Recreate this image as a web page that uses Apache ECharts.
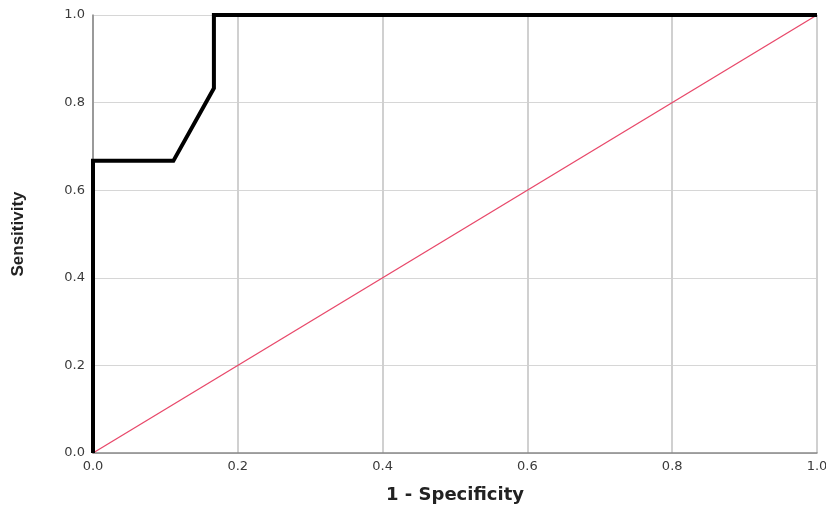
<!DOCTYPE html>
<html>
<head>
<meta charset="utf-8">
<script src="https://cdn.jsdelivr.net/npm/echarts@6/dist/echarts.min.js"></script>
<style>
  html, body { margin: 0; padding: 0; background: #fff; }
  #chart { width: 826px; height: 507px; }
</style>
</head>
<body>
<div id="chart"></div>
<script>
// ROC curve points (1 - specificity, sensitivity)
var rocX = [0, 0, 0.111, 0.167, 0.167, 1.0];
var rocY = [0, 0.667, 0.667, 0.833, 1.0, 1.0];
// reference line
var refX = [0, 1];
var refY = [0, 1];
var xName = "1 - Specificity";
var yName = "Sensitivity";

var chart = echarts.init(document.getElementById("chart"));
var option = {
  animation: false,
  grid: {
    left: 93,
    right: 9,
    top: 15,
    bottom: 54,
    outerBoundsMode: "none"
  },
  xAxis: {
    type: "value",
    min: 0,
    max: 1,
    interval: 0.2,
    name: xName,
    nameLocation: "middle",
    nameGap: 33,
    nameTextStyle: {
      fontFamily: "DejaVu Sans",
      fontSize: 18,
      fontWeight: "bold",
      color: "#222"
    },
    axisLine: { show: true, lineStyle: { color: "#888", width: 1.5 } },
    axisTick: { show: false },
    axisLabel: {
      fontFamily: "DejaVu Sans",
      fontSize: 13,
      color: "#3a3a3a",
      margin: 7,
      formatter: function (v) { return v.toFixed(1); }
    },
    splitLine: { show: true, lineStyle: { color: "#d0d0d0", width: 2 } }
  },
  yAxis: {
    type: "value",
    min: 0,
    max: 1,
    interval: 0.2,
    name: yName,
    nameLocation: "middle",
    nameGap: 66,
    nameTextStyle: {
      fontFamily: "Liberation Sans",
      fontSize: 17,
      fontWeight: "bold",
      color: "#222"
    },
    axisLine: { show: true, lineStyle: { color: "#888", width: 1.5 } },
    axisTick: { show: false },
    axisLabel: {
      fontFamily: "DejaVu Sans",
      fontSize: 13,
      color: "#3a3a3a",
      margin: 8,
      formatter: function (v) { return v.toFixed(1); }
    },
    splitLine: { show: true, lineStyle: { color: "#d6d6d6", width: 1 } }
  },
  series: [
    {
      name: "Reference",
      type: "line",
      data: refX.map(function (x, i) { return [x, refY[i]]; }),
      symbol: "none",
      lineStyle: { color: "#e8486a", width: 1.3 },
      z: 2
    },
    {
      name: "ROC",
      type: "line",
      data: rocX.map(function (x, i) { return [x, rocY[i]]; }),
      symbol: "none",
      lineStyle: { color: "#000", width: 4, join: "miter" },
      z: 3
    }
  ]
};
chart.setOption(option);
</script>
</body>
</html>
